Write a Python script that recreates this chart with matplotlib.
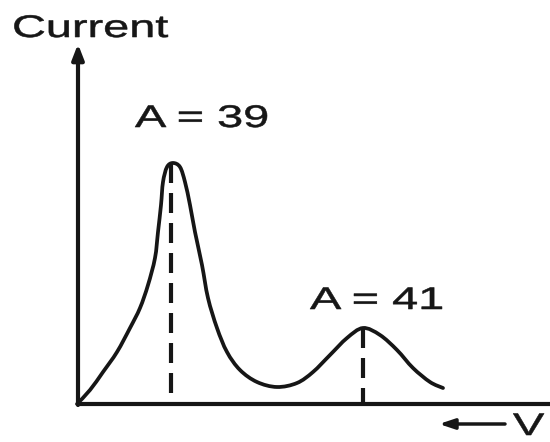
import numpy as np
import matplotlib.pyplot as plt
import matplotlib.patheffects as pe
from matplotlib.path import Path
from matplotlib.patches import PathPatch
from matplotlib.transforms import Affine2D

# voltage (arbitrary units, origin at the axes corner) and current along the trace
volt = [0, 13, 26, 40, 53, 63, 71, 78, 81, 84, 86, 90, 96, 103, 108, 113,
        118, 125, 131, 140, 150, 163, 180, 200, 220, 236, 253, 270, 286,
        303, 320, 336, 353, 366]
current = [0, 14, 32, 52, 76, 96, 119, 146, 172, 199, 222, 237, 241, 237,
           222, 199, 172, 139, 106, 76, 52, 34, 22, 17, 21, 32, 49, 66, 76,
           69, 54, 36, 22, 16]

# isotope peaks
peak_v = [94, 286]
peak_i = [241, 76]
peak_labels = ["A = 39", "A = 41"]
label_pos = [(58, 277), (233, 95)]

ink = "#161616"


class Stretch(pe.AbstractPathEffect):
    """widen glyphs horizontally about the text's left baseline, with a thin outline"""
    def __init__(self, sx, lw=0.4):
        super().__init__()
        self.sx = sx
        self.lw = lw

    def draw_path(self, renderer, gc, tpath, affine, rgbFace=None):
        gc0 = renderer.new_gc()
        gc0.copy_properties(gc)
        gc0.set_linewidth(self.lw)
        gc0.set_foreground(rgbFace)
        gc0.set_joinstyle("round")
        renderer.draw_path(gc0, tpath, Affine2D().scale(self.sx, 1) + affine, rgbFace)
        gc0.restore()


def smooth_path(x, y):
    # cubic Bezier segments through the points (Catmull-Rom tangents)
    p = np.column_stack([x, y]).astype(float)
    ext = np.vstack([p[0], p, p[-1]])
    verts = [p[0]]
    codes = [Path.MOVETO]
    for k in range(len(p) - 1):
        p0, p1, p2, p3 = ext[k], ext[k + 1], ext[k + 2], ext[k + 3]
        verts += [p1 + (p2 - p0) / 6, p2 - (p3 - p1) / 6, p2]
        codes += [Path.CURVE4] * 3
    return Path(verts, codes)


wide = [Stretch(1.5)]
font = dict(family="Liberation Sans", fontsize=22.5, color=ink,
            ha="left", va="baseline", path_effects=wide)

fig = plt.figure(figsize=(5.5, 4.42), dpi=100)
ax = fig.add_axes([0, 0, 1, 1])
ax.set_xlim(-77, 473)
ax.set_ylim(-38, 404)
ax.axis("off")

# axes with arrow on the current axis
ax.plot([0, 473], [0, 0], color=ink, lw=3, solid_capstyle="butt")
ax.annotate("", xy=(1, 360), xytext=(1, -1),
            arrowprops=dict(arrowstyle="-|>,head_length=0.9,head_width=0.35",
                            color=ink, lw=3, shrinkA=0, shrinkB=0))

ax.add_patch(PathPatch(smooth_path(volt, current), facecolor="none",
                       edgecolor=ink, lw=2.7, capstyle="round",
                       joinstyle="round"))

for v, i in zip(peak_v, peak_i):
    ax.plot([v, v], [i, 0], color=ink, lw=3, dashes=(4.8, 2.4),
            dash_capstyle="butt")

for txt, (x, y) in zip(peak_labels, label_pos):
    ax.text(x, y, txt, **font)

ax.text(-65, 367, "Current", **font)

# direction of voltage sweep
ax.annotate("", xy=(362, -20), xytext=(428, -20),
            arrowprops=dict(arrowstyle="-|>,head_length=0.9,head_width=0.3",
                            color=ink, lw=2.5, shrinkA=0, shrinkB=0))
ax.text(436, -31, "V", **font)

fig.savefig("out.png", dpi=100, facecolor="white")
